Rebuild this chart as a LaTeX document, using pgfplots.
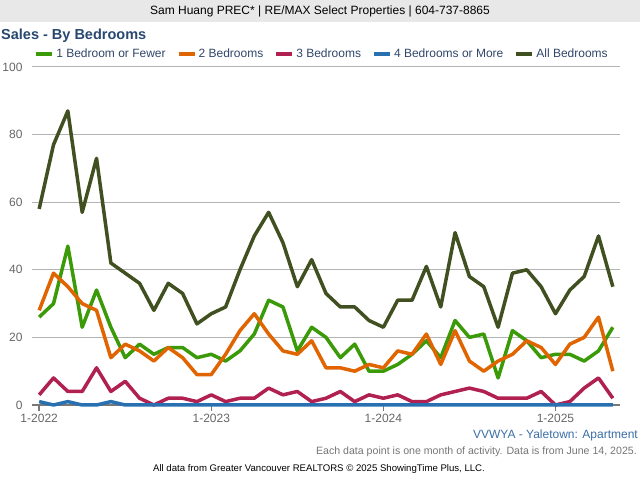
\documentclass[border=0pt]{standalone}
\usepackage{pgfplots}
\usepackage{pgfplotstable}
\pgfplotsset{compat=1.18}
\usepackage{fontspec}
\setmainfont{Liberation Sans}

\definecolor{cOne}{HTML}{3A9A08}
\definecolor{cTwo}{HTML}{E06400}
\definecolor{cThree}{HTML}{B02050}
\definecolor{cFour}{HTML}{2870B0}
\definecolor{cAll}{HTML}{405020}
\definecolor{cTitle}{HTML}{284870}
\definecolor{cLegend}{HTML}{30466A}
\definecolor{cTick}{HTML}{666666}
\definecolor{cGrid}{HTML}{B4B4B4}
\definecolor{cAxis}{HTML}{787878}
\definecolor{cBand}{HTML}{E8E8E8}
\definecolor{cArea}{HTML}{3A6EA5}

% month index (0 = Jan 2022), sales per bedroom group
\pgfplotstableread{
i one two three four all
0 26 28 3 1 58
1 30 39 8 0 77
2 47 35 4 1 87
3 23 30 4 0 57
4 34 28 11 0 73
5 23 14 4 1 42
6 14 18 7 0 39
7 18 16 2 0 36
8 15 13 0 0 28
9 17 17 2 0 36
10 17 14 2 0 33
11 14 9 1 0 24
12 15 9 3 0 27
13 13 15 1 0 29
14 16 22 2 0 40
15 21 27 2 0 50
16 31 21 5 0 57
17 29 16 3 0 48
18 16 15 4 0 35
19 23 19 1 0 43
20 20 11 2 0 33
21 14 11 4 0 29
22 18 10 1 0 29
23 10 12 3 0 25
24 10 11 2 0 23
25 12 16 3 0 31
26 15 15 1 0 31
27 19 21 1 0 41
28 14 12 3 0 29
29 25 22 4 0 51
30 20 13 5 0 38
31 21 10 4 0 35
32 8 13 2 0 23
33 22 15 2 0 39
34 19 19 2 0 40
35 14 17 4 0 35
36 15 12 0 0 27
37 15 18 1 0 34
38 13 20 5 0 38
39 16 26 8 0 50
40 23 10 2 0 35
}\sales

\begin{document}
\begin{tikzpicture}[x=1bp,y=1bp]
\path[use as bounding box] (0,0) rectangle (640,480);
\fill[cBand] (0,458) rectangle (640,480);
\node[font=\fontsize{12bp}{14bp}\selectfont] at (320,469) {Sam Huang PREC* | RE/MAX Select Properties | 604-737-8865};
\node[anchor=west, inner sep=0pt, text=cTitle, font=\fontsize{14.5bp}{17bp}\selectfont\bfseries] at (1,444) {Sales - By Bedrooms};

\begin{axis}[
    at={(32bp,75bp)}, anchor=south west,
    scale only axis, width=588bp, height=338bp,
    xmin=-0.5, xmax=40.5, ymin=0, ymax=100,
    clip=false,
    axis x line*=bottom, axis y line*=left,
    x axis line style={-, draw=cAxis, line width=2.5bp},
    y axis line style={draw=none},
    ytick={0,20,...,100},
    xtick={0,12,24,36},
    xticklabels={1-2022,1-2023,1-2024,1-2025},
    ymajorgrids, grid style={cGrid, line width=1bp},
    ytick style={draw=none},
    xtick style={cAxis, line width=1.5bp},
    tick align=outside, major tick length=6bp,
    ticklabel style={text=cTick, font=\fontsize{12bp}{14bp}\selectfont},
    /pgf/number format/assume math mode=true,
    legend columns=5,
    legend style={at={(0.5,1)}, anchor=center, yshift=13bp, xshift=-4bp,
        draw=none, fill=none, text=cLegend, font=\fontsize{12bp}{14bp}\selectfont,
        /tikz/every even column/.append style={column sep=9bp}},
    legend image code/.code={\draw[line width=4bp] (0bp,0bp) -- (16bp,0bp);},
    every axis plot/.append style={line width=3.5bp, line join=round, no markers},
]
\addplot[cOne] table[x=i, y=one] {\sales};
\addlegendentry{1 Bedroom or Fewer}
\addplot[cTwo] table[x=i, y=two] {\sales};
\addlegendentry{2 Bedrooms}
\addplot[cThree] table[x=i, y=three] {\sales};
\addlegendentry{3 Bedrooms}
\addplot[cFour] table[x=i, y=four] {\sales};
\addlegendentry{4 Bedrooms or More}
\addplot[cAll] table[x=i, y=all] {\sales};
\addlegendentry{All Bedrooms}
\end{axis}

\node[anchor=east, inner sep=0pt, text=cArea, font=\fontsize{12bp}{14bp}\selectfont] at (638,45) {VVWYA - Yaletown: Apartment};
\node[anchor=east, inner sep=0pt, text=cTick!90, font=\fontsize{10.6bp}{13bp}\selectfont] at (637,28) {Each data point is one month of activity. Data is from June 14, 2025.};
\node[inner sep=0pt, font=\fontsize{9.6bp}{12bp}\selectfont] at (319,11) {All data from Greater Vancouver REALTORS © 2025 ShowingTime Plus, LLC.};
\end{tikzpicture}
\end{document}
